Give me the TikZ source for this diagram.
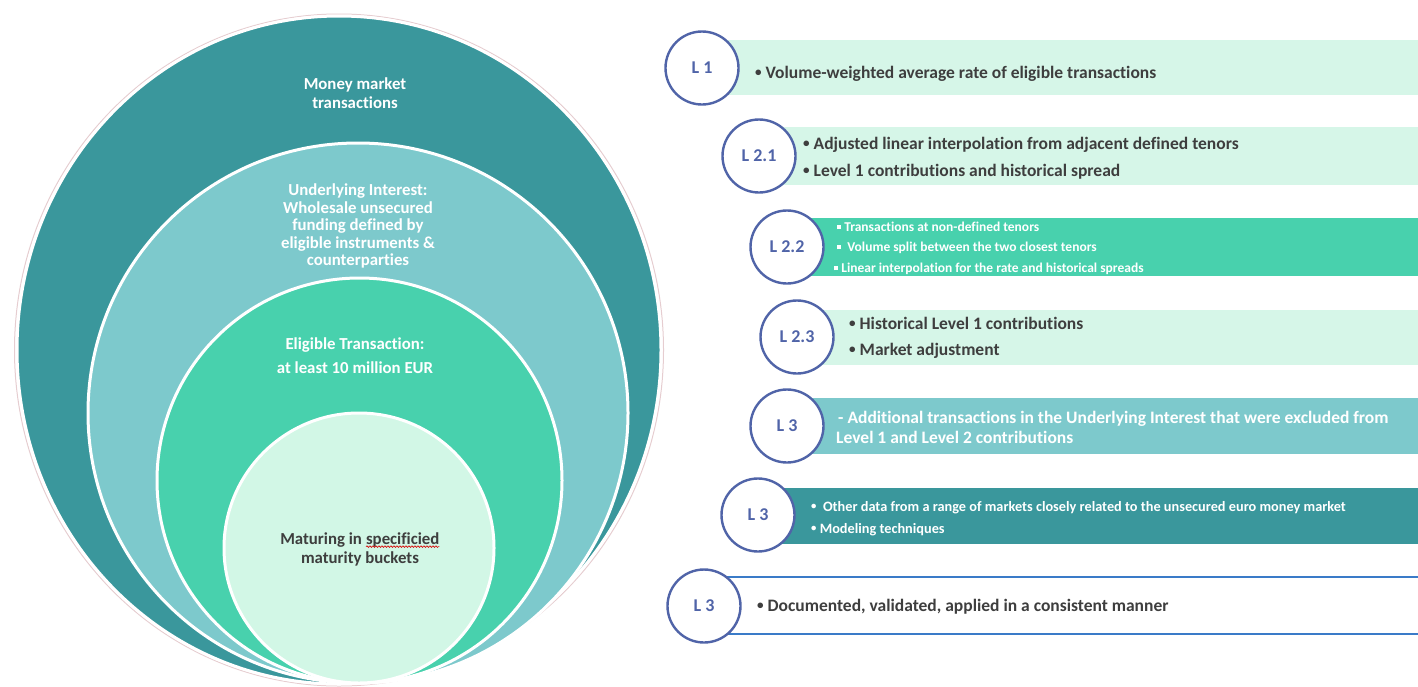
\documentclass[tikz,border=0pt]{standalone}
\usepackage{graphicx}
\usepackage{fontspec}
\setmainfont{Carlito}[Ligatures=NoCommon]
\usetikzlibrary{backgrounds,decorations.pathmorphing}

\definecolor{tealdark}{HTML}{3A979C}
\definecolor{teallight}{HTML}{7DC9CC}
\definecolor{mint}{HTML}{48D1AD}
\definecolor{palemint}{HTML}{D2F7E6}
\definecolor{bandpale}{HTML}{D6F6E8}
\definecolor{levelblue}{HTML}{5064A8}
\definecolor{spine}{HTML}{45628F}
\definecolor{rulerblue}{HTML}{3A7BC8}
\definecolor{textgray}{HTML}{3E3E3E}
\definecolor{ringpink}{HTML}{E6CDD0}

% small round and square bullets
\newcommand\dotbul{\raisebox{0.1em}{\scalebox{0.75}{\textbullet}}}
\newcommand\sqbul{\rule[0.3ex]{0.3em}{0.3em}}
% word with a red wavy underline
\newcommand\squig[1]{\tikz[baseline=(sq.base)]{\node[inner sep=0pt,outer sep=0pt] (sq) {#1};
  \draw[red!85!black,line width=0.6pt,decorate,decoration={snake,amplitude=0.8pt,segment length=3pt}]
    ([yshift=-2.5pt]sq.base west) -- ([yshift=-2.5pt]sq.base east);}}

\begin{document}
\begin{tikzpicture}[x=1pt,y=-1pt,
  ring/.style={draw=white,line width=3pt},
  ctext/.style={align=center,text=white,inner sep=0pt,font=\bfseries\fontsize{16.8}{18.5}\selectfont},
  level/.style={circle,draw=levelblue,line width=2.4pt,fill=white,minimum size=73pt,inner sep=0pt,
    text=levelblue,font=\bfseries\fontsize{18}{20}\selectfont},
  btext/.style={anchor=mid west,inner sep=0pt,text=textgray,font=\bfseries\fontsize{17.5}{20}\selectfont},
  wtext/.style={btext,text=white},
  stext/.style={anchor=mid west,inner sep=0pt,text=white,font=\bfseries\fontsize{13.5}{15}\selectfont},
  mtext/.style={anchor=mid west,inner sep=0pt,text=white,font=\bfseries\fontsize{14.3}{16}\selectfont},
  spineline/.style={draw=spine,line width=5pt}
]
\useasboundingbox (0,0) rectangle (1418,686);
\fill[white] (0,0) rectangle (1418,686);

% ---- nested rings ----
\draw[ringpink,line width=1pt] (339,350) ellipse [x radius=324.5pt,y radius=336pt];
\draw[ring,fill=tealdark] (339,350) ellipse [x radius=322pt,y radius=334pt];
\draw[ring,fill=teallight] (358,413) circle [radius=270pt];
\draw[ring,fill=mint] (359.5,480.5) circle [radius=202.5pt];
\draw[ring,fill=palemint] (359,548) circle [radius=135pt];

\node[ctext] (money) at (355,93) {Money market\\transactions};
\node[ctext,font=\bfseries\fontsize{16.8}{17.5}\selectfont] (interest) at (358,226)
  {Underlying Interest:\\Wholesale unsecured\\funding defined by\\eligible instruments \&\\counterparties};
\node[ctext,font=\bfseries\fontsize{16.8}{24}\selectfont] (eligible) at (355,356)
  {Eligible Transaction:\\at least 10 million EUR};
\node[ctext,text=textgray,font=\bfseries\fontsize{16.8}{19}\selectfont] (maturing) at (360,549)
  {Maturing in \squig{specificied}\\maturity buckets};

% ---- level bands ----
\fill[bandpale] (702,40) rectangle (1418,95);
\fill[bandpale] (759,127) rectangle (1418,185);
\fill[mint] (787,218) rectangle (1418,276);
\fill[bandpale] (797,310) rectangle (1418,365);
\fill[teallight] (787,398) rectangle (1418,454);
\fill[tealdark] (758,488) rectangle (1418,544);
\draw[rulerblue,line width=2.5pt] (704,577) -- (1418,577);
\draw[rulerblue,line width=2.5pt] (704,634) -- (1418,634);

\node[btext] (t1) at (755,76) {\dotbul\ Volume-weighted average rate of eligible transactions};
\node[btext] (t2a) at (803,147) {\dotbul\ Adjusted linear interpolation from adjacent defined tenors};
\node[btext] (t2b) at (803,174) {\dotbul\ Level 1 contributions and historical spread};
\node[stext] (t3a) at (837,229) {\sqbul\ Transactions at non-defined tenors};
\node[stext] (t3b) at (837,249) {\sqbul\ \ Volume split between the two closest tenors};
\node[stext] (t3c) at (834,270) {\sqbul\ Linear interpolation for the rate and historical spreads};
\node[btext] (t4a) at (849,327) {\dotbul\ Historical Level 1 contributions};
\node[btext] (t4b) at (849,353) {\dotbul\ Market adjustment};
\node[wtext] (t5a) at (838,421) {- Additional transactions in the Underlying Interest that were excluded from};
\node[wtext] (t5b) at (836,441) {Level 1 and Level 2 contributions};
\node[mtext] (t6a) at (811,509) {\dotbul\ \ Other data from a range of markets closely related to the unsecured euro money market};
\node[mtext] (t6b) at (811,531) {\dotbul\ Modeling techniques};
\node[btext] (t7) at (757,609) {\dotbul\ Documented, validated, applied in a consistent manner};

% ---- level markers ----
\node[level] (L1)  at (702,68)  {L 1};
\node[level] (L21) at (759,156) {L 2.1};
\node[level] (L22) at (787,247) {L 2.2};
\node[level] (L23) at (797,337) {L 2.3};
\node[level] (L3a) at (787,426) {L 3};
\node[level] (L3b) at (758,515) {L 3};
\node[level] (L3c) at (704,606) {L 3};

\coordinate (top) at (670,23);
\coordinate (bot) at (670,650);
\begin{scope}[on background layer]
  \draw[spineline] (top) -- (L1.center) -- (L21.center) -- (L22.center) -- (L23.center)
    -- (L3a.center) -- (L3b.center) -- (L3c.center) -- (bot);
\end{scope}
\end{tikzpicture}
\end{document}
